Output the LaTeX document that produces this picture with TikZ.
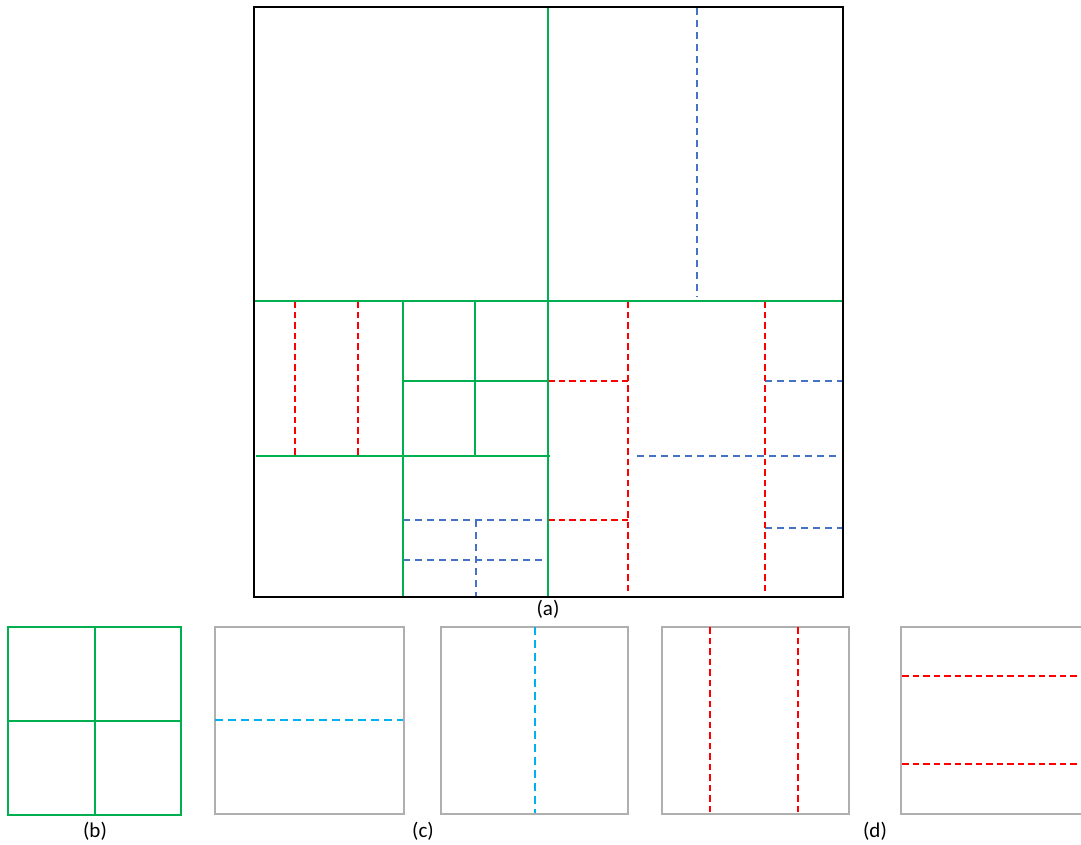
\documentclass[tikz,border=0pt]{standalone}
\usepackage{fontspec}
\setmainfont{Carlito}
\definecolor{pgreen}{HTML}{00B050}
\definecolor{pred}{HTML}{FF0000}
\definecolor{pblue}{HTML}{4472C4}
\definecolor{pcyan}{HTML}{00B0F0}
\definecolor{pgray}{HTML}{AFAFAF}
\tikzset{
  outer/.style={draw=black,line width=2pt},
  gline/.style={draw=pgreen,line width=1.6pt},
  rdash/.style={draw=pred,line width=1.7pt,dash pattern=on 6.5pt off 4pt},
  bdash/.style={draw=pblue,line width=1.7pt,dash pattern=on 7pt off 5pt},
  cdash/.style={draw=pcyan,line width=2pt,dash pattern=on 8pt off 5pt},
  graybox/.style={draw=pgray,line width=1.6pt},
  lbl/.style={font=\fontsize{21}{24}\selectfont,inner sep=0pt}
}
\begin{document}
\begin{tikzpicture}[x=1pt,y=-1pt]
\useasboundingbox (0,0) rectangle (1081,844);
\clip (0,0) rectangle (1081,844);
\fill[white] (0,0) rectangle (1081,844);
% ---------- (a) ----------
% blue dashed
\draw[bdash] (697,8) -- (697,297);
\draw[bdash] (765,381) -- (843,381);
\draw[bdash] (637,456) -- (838,456);
\draw[bdash] (765,528) -- (843,528);
\draw[bdash] (403,520) -- (548,520);
\draw[bdash] (403,560) -- (545,560);
\draw[bdash] (476,520) -- (476,597);
% red dashed
\draw[rdash] (295,301) -- (295,456);
\draw[rdash] (358,301) -- (358,456);
\draw[rdash] (548,381) -- (628,381);
\draw[rdash] (628,301) -- (628,593);
\draw[rdash] (548,520) -- (628,520);
\draw[rdash] (765,301) -- (765,593);
% green solid
\draw[gline] (548,7) -- (548,597);
\draw[gline] (254,301) -- (843,301);
\draw[gline] (403,301) -- (403,597);
\draw[gline] (475,301) -- (475,456);
\draw[gline] (403,381) -- (548,381);
\draw[gline] (256,456) -- (550,456);
% outline
\draw[outer] (254,7) rectangle (843,597);
\node[lbl] (la) at (548,609) {(a)};
% ---------- (b) ----------
\draw[gline] (8,627) rectangle (181,815);
\draw[gline] (95,627) -- (95,815);
\draw[gline] (8,721) -- (181,721);
\node[lbl] (lb) at (95,831) {(b)};
% ---------- (c) ----------
\draw[graybox] (215,627) rectangle (404,814);
\draw[cdash] (215,719.5) -- (403,719.5);
\draw[graybox] (441,627) rectangle (628,814);
\draw[cdash] (535,627) -- (535,813);
\node[lbl] (lc) at (423,831) {(c)};
% ---------- (d) ----------
\draw[graybox] (662,627) rectangle (849,814);
\draw[rdash] (710,627) -- (710,813);
\draw[rdash] (798,627) -- (798,813);
\draw[graybox] (901,627) rectangle (1090,814);
\draw[rdash] (902,676) -- (1090,676);
\draw[rdash] (902,764) -- (1090,764);
\node[lbl] (ld) at (875,831) {(d)};
\end{tikzpicture}
\end{document}
